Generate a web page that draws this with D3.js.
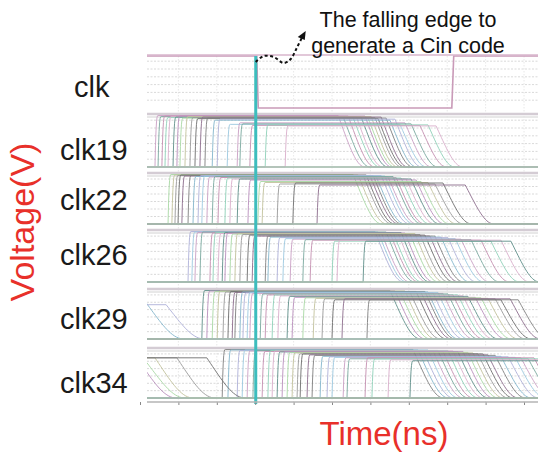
<!DOCTYPE html>
<html><head><meta charset="utf-8">
<script src="https://cdn.jsdelivr.net/npm/d3@7"></script>
<style>body{margin:0;background:#fff}svg{display:block}</style>
</head><body>
<svg id="c" width="538" height="453"></svg>
<script>
// ---------------- DATA ----------------
const panelLabels = ["clk", "clk19", "clk22", "clk26", "clk29", "clk34"];
const clkEdges = [30.4, 81.2]; // falling edge, rising edge (ns)
const timeTicks = [0, 10, 20, 30, 40, 50, 60, 70, 80, 90, 100];

const clk19Rise = [3.9, 4.7, 5.7, 6.5, 7.3, 8.6, 9.6, 10.4, 11.7, 13.0, 14.3, 15.6, 16.9, 18.8, 20.1, 22.7, 25.3, 26.0, 28.6, 32.6, 37.8];
const clk19Fall = [51.6, 52.9, 54.2, 55.5, 56.3, 57.6, 58.6, 59.4, 60.2, 61.2, 62.0, 62.8, 64.1, 65.1, 66.4, 67.7, 69.0, 70.6, 72.9, 75.0, 77.1];
const clk19Peak = [0.99, 0.97, 0.98, 0.95, 0.97, 0.96, 0.98, 0.94, 0.97, 0.95, 0.93, 0.96, 0.94, 0.90, 0.92, 0.82, 0.85, 0.83, 0.80, 0.81, 0.79];
const clk19Early = [];

const clk22Rise = [7.3, 8.3, 9.1, 9.9, 10.9, 12.5, 13.8, 15.1, 16.1, 17.4, 18.8, 20.3, 22.1, 23.4, 25.3, 28.1, 30.7, 31.8, 35.7, 39.8, 46.1];
const clk22Fall = [55.5, 56.8, 58.1, 58.9, 59.9, 60.7, 61.5, 62.8, 63.8, 64.6, 65.9, 66.7, 68.0, 69.3, 70.6, 71.9, 73.2, 75.0, 76.8, 78.9, 84.7];
const clk22Peak = [0.99, 0.98, 0.97, 0.98, 0.96, 0.97, 0.95, 0.97, 0.96, 0.94, 0.95, 0.93, 0.92, 0.90, 0.90, 0.88, 0.85, 0.83, 0.80, 0.82, 0.78];
const clk22Early = [];

const clk26Rise = [12.5, 13.5, 14.3, 15.6, 18.2, 19.0, 20.3, 21.4, 22.1, 23.4, 24.7, 26.0, 27.9, 29.2, 32.6, 33.3, 35.7, 37.2, 39.1, 42.4, 44.3, 50.0, 51.3, 58.1];
const clk26Fall = [61.2, 62.0, 62.8, 64.1, 65.1, 65.9, 67.2, 68.0, 69.0, 70.3, 71.6, 72.9, 74.2, 75.5, 76.8, 78.4, 80.2, 82.1, 83.6, 86.2, 88.8, 91.4, 94.0, 96.6];
const clk26Peak = [0.99, 0.98, 0.97, 0.98, 0.96, 0.97, 0.95, 0.97, 0.96, 0.94, 0.95, 0.93, 0.92, 0.90, 0.90, 0.88, 0.87, 0.85, 0.84, 0.83, 0.82, 0.80, 0.82, 0.80];
const clk26Early = [];

const clk29Rise = [16.1, 17.4, 18.8, 20.1, 21.6, 22.9, 24.0, 24.7, 26.0, 26.8, 27.9, 28.6, 31.3, 32.6, 34.4, 35.9, 38.3, 39.6, 42.4, 45.1, 47.4, 50.0, 52.6, 59.1];
const clk29Fall = [65.1, 66.4, 67.7, 69.0, 70.3, 71.9, 73.2, 74.2, 75.0, 76.3, 77.6, 78.9, 80.2, 81.5, 82.8, 84.1, 85.4, 87.3, 88.8, 90.6, 92.5, 94.0, 96.4, 98.5];
const clk29Peak = [0.99, 0.98, 0.97, 0.98, 0.96, 0.97, 0.95, 0.97, 0.96, 0.94, 0.95, 0.93, 0.92, 0.90, 0.90, 0.88, 0.87, 0.85, 0.84, 0.83, 0.82, 0.80, 0.82, 0.80];
const clk29Early = [1.5, 6.8];
const clk29EarlyPeak = [0.75, 0.70];

const clk34Rise = [21.4, 22.9, 25.3, 26.6, 27.9, 29.4, 31.8, 33.3, 34.4, 35.7, 37.0, 38.3, 39.6, 40.9, 41.7, 43.5, 44.8, 46.9, 48.7, 50.0, 52.9, 53.9, 58.6, 60.4, 64.6, 70.3];
const clk34Fall = [71.1, 72.4, 73.7, 75.0, 76.3, 77.6, 78.9, 80.2, 81.5, 82.8, 84.1, 85.4, 86.7, 88.0, 89.3, 90.6, 92.5, 94.0, 95.9, 97.7, 99.2, 101.1, 102.6, 105.0, 107.6, 110.2];
const clk34Peak = [0.99, 0.98, 0.97, 0.98, 0.96, 0.97, 0.95, 0.97, 0.96, 0.94, 0.95, 0.93, 0.92, 0.90, 0.90, 0.88, 0.87, 0.85, 0.84, 0.83, 0.82, 0.80, 0.82, 0.80, 0.78, 0.76];
const clk34Early = [-0.5, 1.8, 3.9, 9.6, 17.4];
const clk34EarlyPeak = [0.78, 0.72, 0.82, 0.82, 0.82];

// ---------------- LAYOUT ----------------
const W = 538, H = 453;
const svg = d3.select("#c");
const plotL = 147, plotR = 538;
const panelTop  = [56, 115, 174, 231, 290, 349];
const panelBase = [108, 167, 224, 282, 339, 398];
const axisY = 402;
const x = d3.scaleLinear().domain([0, 100]).range([140, 524]);
const tMin = x.invert(plotL) - 2, tMax = x.invert(plotR) + 12;
const yScales = panelTop.map((t, i) => d3.scaleLinear().domain([0, 1]).range([panelBase[i], t]));

const palette = ["#9a9a9a", "#b98fbd", "#8fd0b8", "#caa0c4", "#84b6cc", "#6e6e6e",
                 "#a8d8a4", "#d9aecb", "#7aa89f", "#aeb0d8", "#8d6d8d", "#c2c29c",
                 "#5f8f8a", "#c48fb0", "#9cc9e0", "#7f7f7f"];

svg.append("defs").append("clipPath").attr("id", "plotclip")
  .append("rect").attr("x", plotL).attr("y", 0).attr("width", plotR - plotL).attr("height", H);

const g = svg.append("g").attr("clip-path", "url(#plotclip)");

// vertical faint grid
g.selectAll("line.vg").data(timeTicks).join("line")
  .attr("x1", d => x(d)).attr("x2", d => x(d))
  .attr("y1", panelTop[0]).attr("y2", axisY)
  .attr("stroke", "#e2e2e2").attr("stroke-width", 0.8).attr("stroke-dasharray", "1.5,1.5");

// horizontal dotted grid per panel
const gridLevels = [0.15, 0.3, 0.45, 0.6, 0.75, 0.9];
yScales.forEach((ys) => {
  g.selectAll(null).data(gridLevels).join("line")
    .attr("x1", plotL).attr("x2", plotR)
    .attr("y1", d => ys(d)).attr("y2", d => ys(d))
    .attr("stroke", "#cfcfcf").attr("stroke-width", 0.8).attr("stroke-dasharray", "2,1.5");
});

// panel bands
yScales.forEach((ys, i) => {
  if (i === 0) return;
  g.append("line").attr("x1", plotL).attr("x2", plotR).attr("y1", ys(1) - 1).attr("y2", ys(1) - 1)
    .attr("stroke", "#d4ccd4").attr("stroke-width", 2.5);
  g.append("line").attr("x1", plotL).attr("x2", plotR).attr("y1", ys(1) + 2).attr("y2", ys(1) + 2)
    .attr("stroke", "#e0e0e0").attr("stroke-width", 1.5);
});

// waveform builder
const riseDur = 0.8;
function fallShape(u) { return 0.35 * d3.easeSinInOut(u) + 0.65 * (1 - Math.pow(1 - u, 2.2)); }
function pulse(r, f, peak, fd) {
  const pts = [[tMin, 0], [r, 0]];
  for (let k = 1; k <= 6; k++) { const u = k / 6; pts.push([r + u * riseDur, peak * d3.easeCubicOut(u)]); }
  pts.push([f, peak]);
  for (let k = 1; k <= 20; k++) { const u = k / 20; pts.push([f + u * fd, peak * (1 - fallShape(u))]); }
  pts.push([tMax, 0]);
  return pts;
}
function early(f, peak, fd) {
  const pts = [[tMin, peak], [f, peak]];
  for (let k = 1; k <= 20; k++) { const u = k / 20; pts.push([f + u * fd, peak * (1 - fallShape(u))]); }
  pts.push([tMax, 0]);
  return pts;
}

const panelsData = [
  null,
  {rise: clk19Rise, fall: clk19Fall, peak: clk19Peak, early: clk19Early, earlyPeak: [], fd: 7},
  {rise: clk22Rise, fall: clk22Fall, peak: clk22Peak, early: clk22Early, earlyPeak: [], fd: 7.5},
  {rise: clk26Rise, fall: clk26Fall, peak: clk26Peak, early: clk26Early, earlyPeak: [], fd: 7.5},
  {rise: clk29Rise, fall: clk29Fall, peak: clk29Peak, early: clk29Early, earlyPeak: clk29EarlyPeak, fd: 8},
  {rise: clk34Rise, fall: clk34Fall, peak: clk34Peak, early: clk34Early, earlyPeak: clk34EarlyPeak, fd: 8}
];

panelsData.forEach((p, i) => {
  if (!p) return;
  const ys = yScales[i];
  const line = d3.line().x(d => x(d[0])).y(d => ys(d[1]));
  const waves = p.rise.map((r, j) => pulse(r, p.fall[j], p.peak[j], p.fd));
  p.early.forEach((f, j) => waves.push(early(f, p.earlyPeak[j], 10)));
  g.selectAll(null).data(waves).join("path")
    .attr("d", line).attr("fill", "none")
    .attr("stroke", (d, j) => palette[(j * 5 + i * 3) % palette.length])
    .attr("stroke-width", 1).attr("stroke-opacity", 0.9);
  g.append("line").attr("x1", plotL).attr("x2", plotR).attr("y1", ys(0)).attr("y2", ys(0))
    .attr("stroke", "#a9bfb2").attr("stroke-width", 2.2).attr("stroke-opacity", 0.85);
});

// clk waveform
{
  const ys = yScales[0];
  const clkPts = [[tMin, 1], [clkEdges[0], 1], [clkEdges[0] + 0.4, 0], [clkEdges[1], 0], [clkEdges[1] + 0.5, 1], [tMax, 1]];
  g.append("path").attr("d", d3.line().x(d => x(d[0])).y(d => ys(d[1]))(clkPts))
    .attr("fill", "none").attr("stroke", "#c99ab8").attr("stroke-width", 1.6);
  g.append("line").attr("x1", plotL).attr("x2", plotR).attr("y1", ys(1) - 1).attr("y2", ys(1) - 1)
    .attr("stroke", "#d8b6cc").attr("stroke-width", 1.5);
}

// cyan falling-edge marker
svg.append("line").attr("x1", x(clkEdges[0]) - 1).attr("x2", x(clkEdges[0]) - 1)
  .attr("y1", yScales[0](1)).attr("y2", axisY + 2)
  .attr("stroke", "#3dbdbd").attr("stroke-width", 3);

// axis
const axis = d3.axisBottom(x).tickValues(timeTicks).tickSize(3).tickFormat("");
const ax = svg.append("g").attr("transform", `translate(0,${axisY})`).call(axis);
ax.select(".domain").remove();
ax.selectAll(".tick line").attr("stroke", "#888");
svg.append("line").attr("x1", plotL).attr("x2", plotR).attr("y1", axisY).attr("y2", axisY)
  .attr("stroke", "#b5b5b5").attr("stroke-width", 1.5);

// labels
const labelBase = [97, 160, 210, 265, 329, 393];
svg.selectAll("text.pl").data(panelLabels).join("text")
  .attr("x", (d, i) => i === 0 ? 74 : 60).attr("y", (d, i) => labelBase[i])
  .attr("font-family", "Liberation Sans, Arial, sans-serif").attr("font-size", 29)
  .attr("fill", "#1a1a1a")
  .text(d => d);

svg.append("text").attr("transform", "translate(34,222) rotate(-90)")
  .attr("text-anchor", "middle").attr("font-family", "Liberation Sans, Arial, sans-serif")
  .attr("font-size", 34).attr("fill", "#e8302a").text("Voltage(V)");
svg.append("text").attr("x", 384).attr("y", 445)
  .attr("text-anchor", "middle").attr("font-family", "Liberation Sans, Arial, sans-serif")
  .attr("font-size", 33).attr("fill", "#e8302a").text("Time(ns)");

// annotation
svg.append("text").attr("x", 408).attr("y", 27).attr("text-anchor", "middle")
  .attr("font-family", "Liberation Sans, Arial, sans-serif").attr("font-size", 21.5).attr("fill", "#111")
  .text("The falling edge to");
svg.append("text").attr("x", 408).attr("y", 53).attr("text-anchor", "middle")
  .attr("font-family", "Liberation Sans, Arial, sans-serif").attr("font-size", 21.5).attr("fill", "#111")
  .text("generate a Cin code");

const sx = x(clkEdges[0]) - 1, sy = yScales[0](1) + 6;
const arrowPts = [[sx, sy], [sx + 8, sy - 6], [sx + 18, sy - 5], [sx + 28, sy + 1], [sx + 35, sy - 3], [sx + 41, sy - 14], [sx + 46, sy - 24]];
svg.append("path").attr("d", d3.line().curve(d3.curveCatmullRom)(arrowPts))
  .attr("fill", "none").attr("stroke", "#111").attr("stroke-width", 2).attr("stroke-dasharray", "3,2.5");
{
  const tip = [sx + 50, sy - 31];
  svg.append("path").attr("d", `M${tip[0]},${tip[1]} L${tip[0] - 8},${tip[1] + 6} L${tip[0] - 1},${tip[1] + 9} Z`)
    .attr("fill", "#111");
}
</script>
</body></html>
